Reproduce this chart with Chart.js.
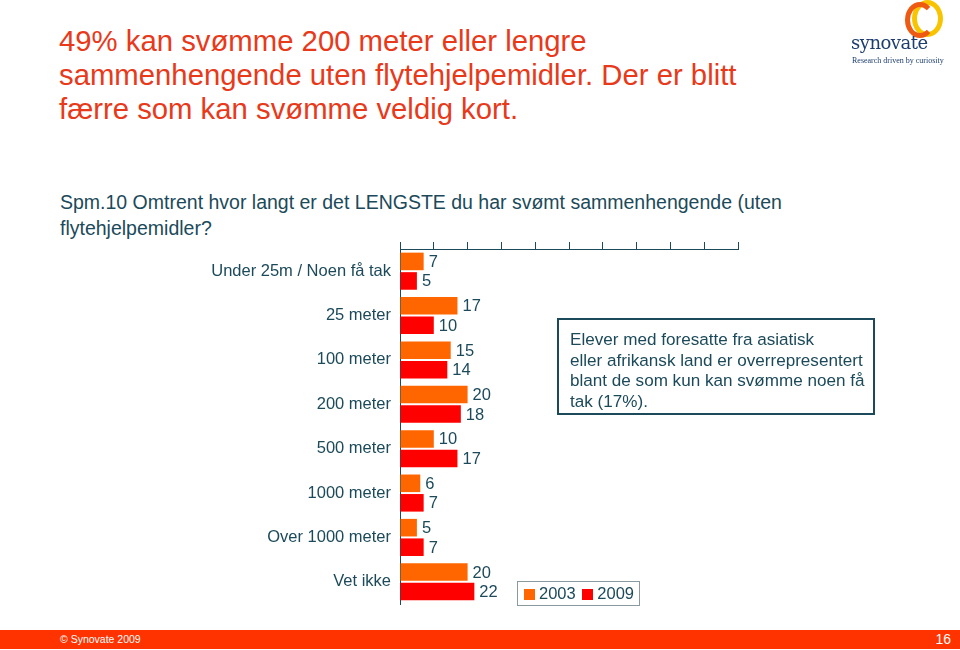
<!DOCTYPE html>
<html>
<head>
<meta charset="utf-8">
<script src="https://cdn.jsdelivr.net/npm/chart.js@4"></script>
<style>
  html, body { margin:0; padding:0; background:#fff; }
  body { width:960px; height:650px; position:relative; overflow:hidden; font-family:"Liberation Sans", Arial, sans-serif; }
  #c { position:absolute; left:0; top:0; }
  .title { position:absolute; left:59px; top:24px; color:#e8391a; font-size:29.3px; line-height:34px; }
  .sub { position:absolute; left:60px; top:189px; color:#1c4a5a; font-size:19.5px; line-height:26px; }
  .note { position:absolute; left:557px; top:318px; width:318px; height:97px; border:2px solid #1c4a5a; color:#1c4a5a; font-size:17.1px; line-height:20.7px; padding:10px 0 0 11px; box-sizing:border-box; }
  .legend { position:absolute; left:517px; top:581px; width:123px; height:25px; border:1px solid #8a9aa0; box-sizing:border-box; color:#1c4a5a; font-size:16.5px; line-height:23px; padding-left:6px; white-space:nowrap; }
  .legend span.sw { display:inline-block; width:11px; height:11px; margin-right:4px; vertical-align:-1px; }
  .footer { position:absolute; left:0; top:630px; width:960px; height:19px; background:#ff3300; color:#fff; font-size:10.5px; line-height:19px; }
  .footer .l { position:absolute; left:60px; }
  .footer .r { position:absolute; right:9px; font-size:14px; }
  .logo { position:absolute; left:850px; top:0px; width:110px; height:70px; }
  .logo .ring2 { position:absolute; left:62px; top:0px; width:31px; height:37px; border-radius:50%; border:5px solid #f8c400; box-sizing:border-box; }
  .logo .ring1 { position:absolute; left:55px; top:2px; width:30px; height:36px; border-radius:50%; border:5px solid #ee5a12; box-sizing:border-box; border-right-color:transparent; }
  .logo .name { position:absolute; left:1px; top:32px; color:#1c3d6e; font-family:"DejaVu Serif", "Liberation Serif", serif; font-size:18px; letter-spacing:-0.5px; }
  .logo .tag { position:absolute; left:2px; top:56px; color:#1c3d6e; font-family:"Liberation Serif", serif; font-size:8px; }
</style>
</head>
<body>
<div class="title">49% kan svømme 200 meter eller lengre<br>sammenhengende uten flytehjelpemidler. Der er blitt<br>færre som kan svømme veldig kort.</div>
<div class="sub">Spm.10 Omtrent hvor langt er det LENGSTE du har svømt sammenhengende (uten<br>flytehjelpemidler?</div>
<canvas id="c" width="960" height="650"></canvas>
<div class="note">Elever med foresatte fra asiatisk<br>eller afrikansk land er overrepresentert<br>blant de som kun kan svømme noen få<br>tak (17%).</div>
<div class="legend"><span class="sw" style="background:#ff6600"></span>2003 <span class="sw" style="background:#ff0000;margin-left:2px"></span>2009</div>
<div class="footer"><span class="l">© Synovate 2009</span><span class="r">16</span></div>
<div class="logo"><div class="ring2"></div><div class="ring1"></div><div class="name">synovate</div><div class="tag">Research driven by curiosity</div></div>
<script>
const categories = ["Under 25m / Noen få tak", "25 meter", "100 meter", "200 meter", "500 meter", "1000 meter", "Over 1000 meter", "Vet ikke"];
const series2003 = [7, 17, 15, 20, 10, 6, 5, 20];
const series2009 = [5, 10, 14, 18, 17, 7, 7, 22];
const seriesNames = ["2003", "2009"];
const xTicks = [0, 10, 20, 30, 40, 50, 60, 70, 80, 90, 100];

const textColor = "#1c4a5a";
const axisColor = "#1c4a5a";

const valueLabels = {
  id: "valueLabels",
  afterDatasetsDraw(chart) {
    const ctx = chart.ctx;
    ctx.save();
    ctx.font = '16.5px "Liberation Sans", Arial, sans-serif';
    ctx.fillStyle = textColor;
    ctx.textBaseline = "middle";
    ctx.textAlign = "left";
    chart.data.datasets.forEach((ds, i) => {
      const meta = chart.getDatasetMeta(i);
      meta.data.forEach((bar, j) => {
        ctx.fillText(String(ds.data[j]), bar.x + 5, bar.y + 1);
      });
    });
    ctx.restore();
  }
};

new Chart(document.getElementById("c"), {
  type: "bar",
  data: {
    labels: categories,
    datasets: [
      { label: seriesNames[0], data: series2003, backgroundColor: "#ff6600", categoryPercentage: 0.88, barPercentage: 0.9 },
      { label: seriesNames[1], data: series2009, backgroundColor: "#ff0000", categoryPercentage: 0.88, barPercentage: 0.9 }
    ]
  },
  options: {
    indexAxis: "y",
    responsive: false,
    animation: false,
    layout: { padding: { left: 0, top: 241, right: 222, bottom: 46 } },
    plugins: { legend: { display: false }, tooltip: { enabled: false } },
    scales: {
      x: {
        position: "top",
        min: 0, max: 100,
        afterBuildTicks(scale) { scale.ticks = xTicks.map(v => ({ value: v })); },
        ticks: { display: false },
        grid: { drawOnChartArea: false, drawTicks: true, tickLength: 7, color: axisColor, lineWidth: 1 },
        border: { display: true, color: axisColor, width: 1 },
        afterFit(scale) { scale.height = 8; }
      },
      y: {
        ticks: { color: textColor, font: { size: 16.5, family: '"Liberation Sans", Arial, sans-serif' }, padding: 1 },
        grid: { display: false },
        border: { display: true, color: axisColor, width: 1 },
        afterFit(scale) { scale.width = 400; }
      }
    }
  },
  plugins: [valueLabels]
});
</script>
</body>
</html>
